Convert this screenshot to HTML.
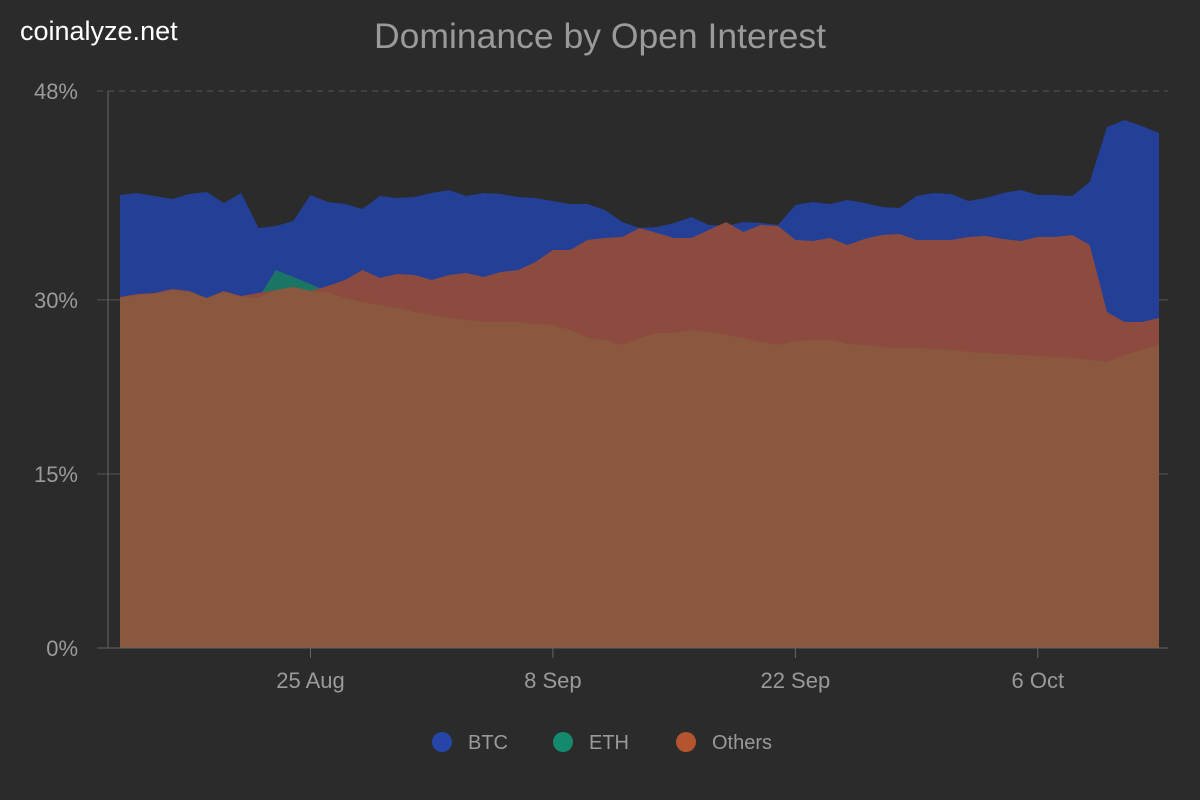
<!DOCTYPE html>
<html><head><meta charset="utf-8"><style>
body{margin:0;background:#2b2b2b;}
svg{display:block;font-family:"Liberation Sans",sans-serif;}
</style></head><body>
<svg id="chart" width="1200" height="800">
<rect width="1200" height="800" fill="#2b2b2b"/>
<text x="20" y="40" fill="#ffffff" font-size="27">coinalyze.net</text>
<text x="600" y="48" fill="#9a9a9a" font-size="35.5" text-anchor="middle">Dominance by Open Interest</text>
<g id="grid"></g>
<g id="areas"></g>
<g id="axes"></g>
<g id="legend"></g>
</svg>
<script>
const btcY=[195,193,196,199,194,192,203,193,228,226,221,195,202,204,209,196,198,197,193,190,196,193,194,197,198,201,204,204,210,222,228,227,223,217,225,226,222,223,225,205,202,204,200,203,207,208,196,193,194,201,198,193,190,195,195,196,182,127,120,126,133];
const othY=[297,294,293,289,291,298,291,296,293,290,287,291,286,280,270,278,274,275,280,275,273,277,272,270,262,250,250,240,238,237,228,233,238,238,230,222,232,225,226,240,241,238,245,239,235,234,240,240,240,237,236,239,241,237,237,235,245,312,322,322,318];
const ethY=[298,295,294,290,292,298,292,297,298,270,277,284,292,298,302,305,308,312,315,318,320,322,322,322,324,325,330,338,340,345,338,333,333,330,332,335,338,342,345,341,340,340,344,345,347,348,348,349,350,352,353,354,355,356,357,358,360,362,355,350,345];
const toVal=y=>(648-y)/11.604;
const btc=btcY.map(toVal), eth=ethY.map(toVal), others=othY.map(toVal);
const yTicks=[0,15,30,48];
const xTickLabels=["25 Aug","8 Sep","22 Sep","6 Oct"];
const xTickIdx=[11,25,39,53];
const legendNames=["BTC","ETH","Others"];
const legendColors=["#2545a8","#138a6c","#b4552f"];

const NS="http://www.w3.org/2000/svg";
const X0=120,X1=1159,Y0=648,Y1=91,VMAX=48,N=btc.length;
const sx=i=>X0+(X1-X0)*i/(N-1);
const sy=v=>Y0-(Y0-Y1)*v/VMAX;
function mk(tag,attrs,parent){const e=document.createElementNS(NS,tag);for(const k in attrs)e.setAttribute(k,attrs[k]);parent.appendChild(e);return e;}
const grid=document.getElementById('grid'),areas=document.getElementById('areas'),axes=document.getElementById('axes'),legend=document.getElementById('legend');
yTicks.forEach(t=>{
  const l=mk('line',{x1:97,x2:1168,y1:sy(t),y2:sy(t),stroke:'#555',"stroke-dasharray":t===48?'6,5':'none'},grid);
  
  
  const tx=mk('text',{x:78,y:sy(t)+8,fill:'#9a9a9a',"font-size":22,"text-anchor":"end"},axes);
  tx.textContent=t+'%';
  
  
});
function area(vals,color,name){
  let d='M'+sx(0)+','+Y0;
  vals.forEach((v,i)=>{d+=' L'+sx(i).toFixed(1)+','+sy(v).toFixed(1);});
  d+=' L'+sx(N-1)+','+Y0+' Z';
  const p=mk('path',{d:d,fill:color},areas);
  
  
}
area(btc,'#243f96','btc-area');
area(eth,'#1a7565','eth-area');
area(others,'#8d4b40','others-area');
area(eth.map((v,i)=>Math.min(v,others[i])),'#8a583e','overlap-area');
const ax=mk('line',{x1:108,x2:108,y1:91,y2:648,stroke:'#666'},axes);


const bx=mk('line',{x1:97,x2:1168,y1:648,y2:648,stroke:'#666'},axes);


xTickLabels.forEach((lab,k)=>{
  const x=sx(xTickIdx[k]);
  const tk=mk('line',{x1:x,x2:x,y1:648,y2:658,stroke:'#666'},axes);
  
  
  const t=mk('text',{x:x,y:688,fill:'#9a9a9a',"font-size":22,"text-anchor":"middle"},axes);
  t.textContent=lab;
  
  
});
const lx=[442,563,686];
legendNames.forEach((n,i)=>{
  const g=mk('g',{},legend);
  
  
  mk('circle',{cx:lx[i],cy:742,r:10,fill:legendColors[i]},g);
  const t=mk('text',{x:lx[i]+26,y:749,fill:'#9a9a9a',"font-size":20},g);
  t.textContent=n;
});
</script>
</body></html>
